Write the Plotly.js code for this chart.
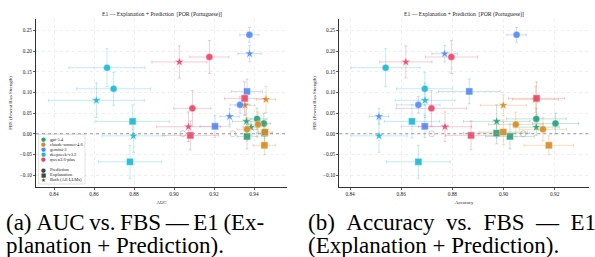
<!DOCTYPE html>
<html><head><meta charset="utf-8">
<script src="https://cdn.plot.ly/plotly-3.0.1.min.js"></script>
<style>html,body{margin:0;padding:0;background:#fff;} #chart{width:595px;height:257px;}</style>
</head><body><div id="chart"></div>
<script>
// ---------------- data ----------------
const models = ['gpt-5.4', 'claude-sonnet-4.6', 'gemini-3', 'deepseek-v3.2', 'qwen3.6-plus'];
const pointTypes = ['Prediction', 'Prediction', 'Both', 'Both', 'Explanation', 'Explanation'];

// FBS per model (6 points each)
const fbsValues = [
  [0.036, 0.025, 0.030, 0.016, 0.0015, -0.0065],
  [0.0227, 0.0107, 0.083, 0.069, 0.004, -0.028],
  [0.2397, 0.070, 0.194, 0.042, 0.1025, 0.018],
  [0.160, 0.109, 0.081, -0.005, 0.030, -0.068],
  [0.186, 0.0615, 0.174, 0.017, 0.0857, -0.004]
];
const fbsErrors = [
  [0.026, 0.025, 0.040, 0.020, 0.026, 0.030],
  [0.030, 0.028, 0.032, 0.025, 0.030, 0.023],
  [0.018, 0.020, 0.020, 0.019, 0.030, 0.027],
  [0.046, 0.040, 0.042, 0.040, 0.040, 0.040],
  [0.040, 0.043, 0.039, 0.036, 0.040, 0.035]
];
const aucValues = [
  [0.9415, 0.9449, 0.9362, 0.9385, 0.9452, 0.9365],
  [0.9420, 0.9365, 0.9460, 0.9355, 0.9455, 0.9452],
  [0.9377, 0.9330, 0.9378, 0.9278, 0.9365, 0.9205],
  [0.8665, 0.8698, 0.8612, 0.8797, 0.8793, 0.8780],
  [0.9177, 0.9092, 0.9027, 0.9072, 0.9353, 0.9082]
];
const aucErrors = [
  [0.0050, 0.0035, 0.0070, 0.0040, 0.0040, 0.0050],
  [0.0046, 0.0050, 0.0048, 0.0050, 0.0035, 0.0057],
  [0.0048, 0.0050, 0.0058, 0.0048, 0.0077, 0.0075],
  [0.0190, 0.0185, 0.0240, 0.0157, 0.0184, 0.0158],
  [0.0098, 0.0093, 0.0138, 0.0160, 0.0100, 0.0140]
];
const accValues = [
  [0.9128, 0.9203, 0.8973, 0.9128, 0.8973, 0.9025],
  [0.9048, 0.9154, 0.9125, 0.8999, 0.8999, 0.9177],
  [0.9051, 0.8667, 0.8770, 0.8513, 0.8866, 0.8692],
  [0.8539, 0.8692, 0.8693, 0.8513, 0.8642, 0.8667],
  [0.8796, 0.8718, 0.8618, 0.8771, 0.9129, 0.8873]
];
const accErrors = [
  [0.0117, 0.0090, 0.0130, 0.0090, 0.0130, 0.0095],
  [0.0107, 0.0092, 0.0090, 0.0090, 0.0095, 0.0097],
  [0.0038, 0.0085, 0.0050, 0.0038, 0.0120, 0.0092],
  [0.0135, 0.0110, 0.0117, 0.0110, 0.0108, 0.0124],
  [0.0102, 0.0138, 0.0102, 0.0104, 0.0110, 0.0100]
];
// faint reference markers on the zero line
const refAuc = [0.9044, 0.9295];
const refAcc = [0.8719, 0.9077];
const refFbs = [0, 0];

const aucTicks = [0.84, 0.86, 0.88, 0.90, 0.92, 0.94];
const accTicks = [0.84, 0.86, 0.88, 0.90, 0.92];
const fbsTicks = [-0.10, -0.05, 0.00, 0.05, 0.10, 0.15, 0.20, 0.25];

const titleText = 'E1 — Explanation + Prediction  [POR (Portuguese)]';
const yTitle = 'FBS (Fewest Bias Strength)';
const legendShapes = ['Prediction', 'Explanation', 'Both (All LLMs)'];
const captionA = ['(a) AUC vs. FBS — E1 (Ex-', 'planation + Prediction).'];
const captionB = ['(b) Accuracy vs. FBS — E1', '(Explanation + Prediction).'];

// ---------------- style ----------------
const colors = ['#23a07a', '#da8a1f', '#4f8af5', '#1bb9d4', '#ee4466'];
const symbolFor = {Prediction: 'circle', Explanation: 'square', Both: 'star'};
const sizeFor = {Prediction: 7, Explanation: 7, Both: 7};
function rgba(hex, a) {
  const n = parseInt(hex.slice(1), 16);
  return `rgba(${(n >> 16) & 255},${(n >> 8) & 255},${n & 255},${a})`;
}
const FONT = 'Liberation Serif, Times New Roman, serif';

const traces = [];
[['x', 'y', aucValues, aucErrors, refAuc], ['x2', 'y2', accValues, accErrors, refAcc]].forEach(([xa, ya, xv, xe, refX]) => {
  traces.push({
    type: 'scatter', mode: 'markers', xaxis: xa, yaxis: ya,
    x: refX, y: refFbs, hoverinfo: 'skip',
    marker: {symbol: 'circle-open', size: 6, color: 'rgba(190,190,190,0.7)', line: {width: 1}}
  });
  models.forEach((m, i) => {
    const ec = rgba(colors[i], 0.28);
    traces.push({
      type: 'scatter', mode: 'markers', name: m, xaxis: xa, yaxis: ya,
      x: xv[i], y: fbsValues[i],
      error_x: {type: 'data', array: xe[i], color: ec, thickness: 1, width: 1.5},
      error_y: {type: 'data', array: fbsErrors[i], color: ec, thickness: 1, width: 1.5},
      marker: {
        symbol: pointTypes.map(t => symbolFor[t]),
        size: pointTypes.map(t => sizeFor[t]),
        color: colors[i], opacity: 0.9,
        line: {width: 0.5, color: 'rgba(255,255,255,0.8)'}
      }
    });
  });
});

function axisBase(extra) {
  return Object.assign({
    showline: true, linecolor: '#333', linewidth: 1, mirror: false,
    ticks: 'outside', ticklen: 2, tickwidth: 0.8, tickcolor: '#333',
    tickfont: {family: FONT, size: 5.3, color: '#222'},
    showgrid: true, gridcolor: '#e4e4e4', gridwidth: 0.6, griddash: 'dot',
    zeroline: false, tickformat: '.2f'
  }, extra);
}
const yRange = [-0.129, 0.278];

const annotations = [];
const px2x = px => (px - 36) / 553;
const py2y = py => (187 - py) / 168;
// subplot titles
[[0.227, titleText], [0.774, titleText]].forEach(([x, t]) => annotations.push({
  xref: 'paper', yref: 'paper', x: x, y: py2y(14.5), text: t, showarrow: false,
  xanchor: 'center', yanchor: 'middle', font: {family: FONT, size: 5.7, color: '#222'}
}));
// captions (first line justified in the original: adjust the word gaps)
const justify = (s, gap) => s.split(' ').join(gap);
[[4, captionA, '\u2009'], [306, captionB, ' \u2005']].forEach(([px, lines, gap]) => {
  lines.forEach((ln, k) => annotations.push({
    xref: 'paper', yref: 'paper', x: px2x(px), y: py2y(223 + k * 22), text: k === 0 ? justify(ln, gap) : ln, showarrow: false,
    xanchor: 'left', yanchor: 'middle', font: {family: FONT, size: 23, color: '#000'}
  }));
});
// manual legend
const legRows = models.map((m, i) => ({label: m, glyph: '●', color: colors[i], py: 139 + i * 5.1}));
legendShapes.forEach((l, k) => legRows.push({label: l, glyph: ['●', '■', '★'][k], color: '#444', py: 169.5 + k * 5}));
legRows.forEach(r => {
  annotations.push({xref: 'paper', yref: 'paper', x: px2x(43.3), y: py2y(r.py), text: r.glyph, showarrow: false,
    xanchor: 'center', yanchor: 'middle', font: {family: 'DejaVu Sans', size: 5.5, color: r.color}});
  annotations.push({xref: 'paper', yref: 'paper', x: px2x(47.8), y: py2y(r.py), text: r.label, showarrow: false,
    xanchor: 'left', yanchor: 'middle', font: {family: FONT, size: 4.6, color: '#222'}});
});

const layout = {
  width: 595, height: 257,
  margin: {l: 36, r: 6, t: 19, b: 70},
  paper_bgcolor: '#fff', plot_bgcolor: '#fff',
  showlegend: false,
  font: {family: FONT, size: 5.3, color: '#222'},
  xaxis: axisBase({domain: [0, 0.4539], range: [0.831, 0.9565], tickvals: aucTicks,
    title: {text: 'AUC', font: {family: FONT, size: 4.8}, standoff: 4}}),
  yaxis: axisBase({domain: [0, 1], range: yRange, tickvals: fbsTicks,
    title: {text: yTitle, font: {family: FONT, size: 4.8}, standoff: 6}}),
  xaxis2: axisBase({domain: [0.5485, 1], anchor: 'y2', range: [0.8358, 0.9334], tickvals: accTicks,
    title: {text: 'Accuracy', font: {family: FONT, size: 4.8}, standoff: 4}}),
  yaxis2: axisBase({domain: [0, 1], anchor: 'x2', range: yRange, tickvals: fbsTicks,
    title: {text: yTitle, font: {family: FONT, size: 4.8}, standoff: 6}}),
  shapes: [
    {type: 'line', xref: 'x domain', yref: 'y', x0: 0, x1: 1, y0: 0, y1: 0, line: {color: '#999', width: 1.1, dash: 'dot'}},
    {type: 'line', xref: 'x2 domain', yref: 'y2', x0: 0, x1: 1, y0: 0, y1: 0, line: {color: '#999', width: 1.1, dash: 'dot'}},
    {type: 'rect', xref: 'paper', yref: 'paper', x0: px2x(38.7), x1: px2x(85), y0: py2y(184), y1: py2y(134.5),
      line: {color: '#ccc', width: 0.6}, fillcolor: 'rgba(255,255,255,0.85)'}
  ],
  annotations: annotations
};

Plotly.newPlot('chart', traces, layout, {displayModeBar: false, staticPlot: true});
</script>
</body></html>
